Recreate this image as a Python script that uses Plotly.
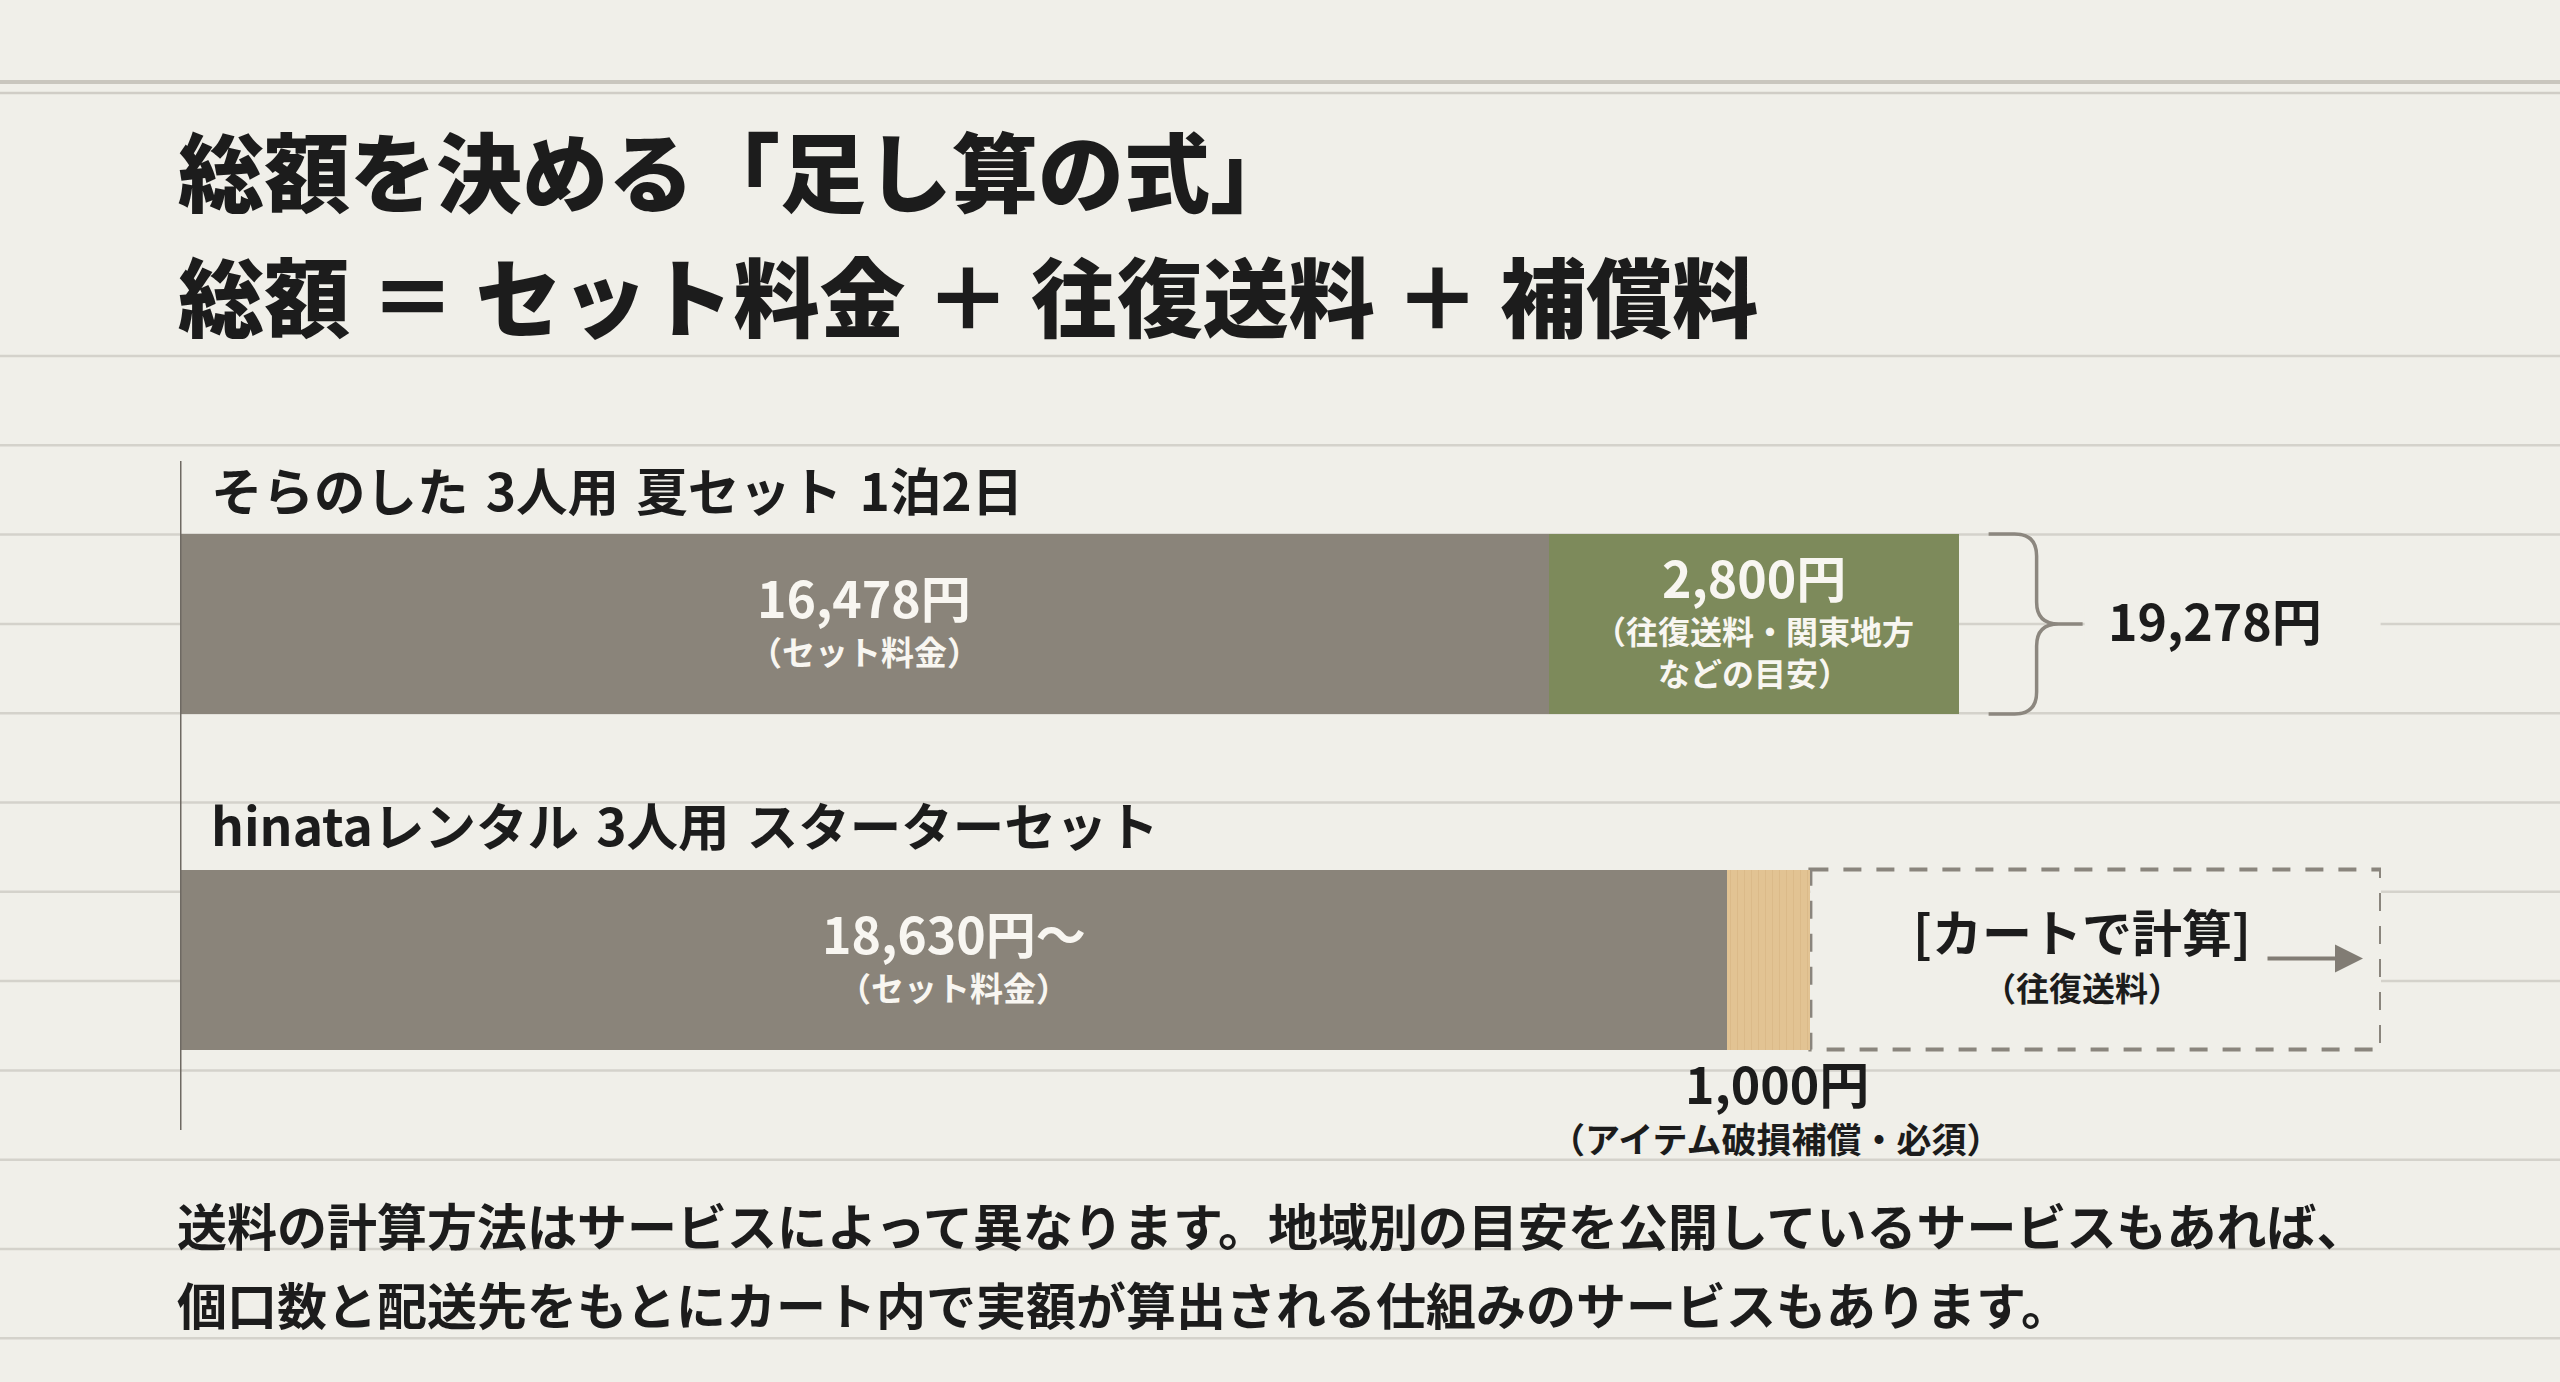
import plotly.graph_objects as go

# ---------------- data ----------------
rows = ["そらのした 3人用 夏セット 1泊2日", "hinataレンタル 3人用 スターターセット"]
set_fee = [16478, 18630]
shipping_fee = [2800, None]
insurance_fee = [None, 1000]
set_fee_suffix = ["", "〜"]
set_label = "セット料金"
shipping_note = ["（往復送料・関東地方", "などの目安）"]
insurance_note = "（アイテム破損補償・必須）"
cart_label = "[カートで計算]"
cart_note = "（往復送料）"
title_lines = ["総額を決める「足し算の式」", "総額 ＝ セット料金 ＋ 往復送料 ＋ 補償料"]
footnote_lines = [
    "送料の計算方法はサービスによって異なります。地域別の目安を公開しているサービスもあれば、",
    "個口数と配送先をもとにカート内で実額が算出される仕組みのサービスもあります。",
]

# ---------------- layout constants ----------------
W, H = 2560, 1382
BG = "#f0efe9"
GRAY = "#8a847a"
GREEN = "#7d8a5b"
TAN = "#e2c393"
LINE = "#d4d2cb"
INK = "#1c1c1c"
WHITE = "#f8f6f1"
FONT = "Noto Sans CJK JP"
WSPACE = "\u2004"  # slightly wider word gap, as in the reference typography

PLOT_X0_PX, PLOT_X1_PX = 180, 2381
AXIS_MAX = 26500
ROW_PX = [624, 959.5]
BAR_PX = 180
MIN_LABEL_SEG_PX = 410

px_per_unit = (PLOT_X1_PX - PLOT_X0_PX) / AXIS_MAX
row_gap = ROW_PX[1] - ROW_PX[0]
y_top = -ROW_PX[0] / row_gap
y_bot = 1 + (H - ROW_PX[1]) / row_gap
bar_w = BAR_PX / row_gap
min_units = MIN_LABEL_SEG_PX / px_per_unit

shipping_disp = [max(v, min_units) if v else None for v in shipping_fee]

fig = go.Figure()
fig.add_trace(go.Bar(y=rows, x=set_fee, orientation="h", width=bar_w,
                     marker=dict(color=GRAY, line=dict(width=0)), hoverinfo="skip"))
fig.add_trace(go.Bar(y=rows, x=shipping_disp, orientation="h", width=bar_w,
                     marker=dict(color=GREEN, line=dict(width=0)), hoverinfo="skip"))
fig.add_trace(go.Bar(y=rows, x=insurance_fee, orientation="h", width=bar_w,
                     marker=dict(color=TAN, line=dict(width=0),
                                 pattern=dict(shape="|", fillmode="replace", bgcolor=TAN,
                                              fgcolor="#c9a56f", fgopacity=0.3, size=7, solidity=0.15)),
                     hoverinfo="skip"))

shapes = []
def py(p):
    return 1 - p / H

# notebook ruled lines
for yy, w, c in [(82, 4, "#c9c6be"), (93, 2.5, "#d0cdc6")]:
    shapes.append(dict(type="line", xref="paper", yref="paper", x0=0, x1=1, y0=py(yy), y1=py(yy),
                       line=dict(color=c, width=w), layer="below"))
for k in range(12):
    yy = 356 + k * 89.3
    shapes.append(dict(type="line", xref="paper", yref="paper", x0=0, x1=1, y0=py(yy), y1=py(yy),
                       line=dict(color=LINE, width=2.5), layer="below"))

end1 = set_fee[0] + shipping_disp[0]
end2 = set_fee[1] + insurance_fee[1]
total1 = set_fee[0] + shipping_fee[0]

# cover behind total label
shapes.append(dict(type="rect", xref="x", yref="y", xsizemode="pixel", ysizemode="pixel",
                   xanchor=end1, yanchor=0, x0=126, x1=422, y0=-20, y1=20,
                   fillcolor=BG, line=dict(width=0), layer="below"))
# dashed box (shipping computed in cart)
shapes.append(dict(type="rect", xref="x", yref="y", x0=end2, x1=AXIS_MAX,
                   y0=1 - bar_w / 2, y1=1 + bar_w / 2, fillcolor=BG,
                   line=dict(color="#8a857d", width=4, dash="18px,15px"), layer="below"))
# brace
brace = ("M 30,90 L 56,90 Q 78,90 78,68 L 78,22 Q 78,0 100,0 L 124,0 "
         "M 100,0 Q 78,0 78,-22 L 78,-68 Q 78,-90 56,-90 L 30,-90")
shapes.append(dict(type="path", xref="x", yref="y", xsizemode="pixel", ysizemode="pixel",
                   xanchor=end1, yanchor=0, path=brace,
                   line=dict(color="#8c877f", width=3.5), layer="above"))
# left axis line
shapes.append(dict(type="line", xref="x", yref="paper", x0=0, x1=0, y0=py(1130), y1=py(461),
                   line=dict(color="#6e6962", width=3), layer="above"))

ann = []
def A(text, x, y, size, color=INK, weight=600, xref="x", yref="y", xanchor="center",
      yanchor="middle", xshift=0, yshift=0, **kw):
    ann.append(dict(text=text, x=x, y=y, xref=xref, yref=yref, xanchor=xanchor, yanchor=yanchor,
                    xshift=xshift, yshift=yshift, showarrow=False,
                    font=dict(family=FONT, size=size, color=color, weight=weight), **kw))

# titles
A(title_lines[0], 176 / W, py(169), 86, weight=900, xref="paper", yref="paper", xanchor="left")
A(title_lines[1], 176 / W, py(294), 86, weight=900, xref="paper", yref="paper", xanchor="left")

# row labels
for r in rows:
    A(r.replace(" ", WSPACE), 0, r, 51.5, xanchor="left", xshift=29, yshift=136)

# set fee labels
for i, r in enumerate(rows):
    cx = set_fee[i] / 2
    A(f"{set_fee[i]:,}円{set_fee_suffix[i]}", cx, r, 50, color=WHITE, yshift=28)
    A(f"（{set_label}）", cx, r, 33, color=WHITE, yshift=-27)

# shipping labels (row 1)
gx = set_fee[0] + shipping_disp[0] / 2
A(f"{shipping_fee[0]:,}円", gx, rows[0], 50, color=WHITE, yshift=48)
A("<br>".join(shipping_note), gx, rows[0], 32, color=WHITE, yshift=-27)

# total
A(f"{total1:,}円", end1, rows[0], 50, xanchor="left", xshift=147, yshift=5)

# insurance labels (row 2, below bar)
tx = set_fee[1] + insurance_fee[1] / 2
A(f"{insurance_fee[1]:,}円", tx, rows[1], 50, xshift=8, yshift=-122)
A(insurance_note, tx, rows[1], 35, xshift=7, yshift=-178)

# cart box
bx = (end2 + AXIS_MAX) / 2
A(cart_label, bx, rows[1], 50, xshift=-14, yshift=30)
A(cart_note, bx, rows[1], 33, xshift=-14, yshift=-27)
ann.append(dict(x=AXIS_MAX, y=rows[1], xref="x", yref="y", xshift=-18, yshift=1, text="",
                showarrow=True, ax=-97, ay=0, axref="pixel", ayref="pixel",
                arrowhead=2, arrowsize=1.4, arrowwidth=4, arrowcolor="#817c74"))

# footnote
A(footnote_lines[0], 175 / W, py(1224), 50, xref="paper", yref="paper", xanchor="left")
A(footnote_lines[1], 175 / W, py(1303), 50, xref="paper", yref="paper", xanchor="left")

fig.update_layout(
    width=W, height=H, margin=dict(l=0, r=0, t=0, b=0),
    paper_bgcolor=BG, plot_bgcolor=BG, barmode="stack", bargap=0, showlegend=False,
    xaxis=dict(range=[0, AXIS_MAX], domain=[PLOT_X0_PX / W, PLOT_X1_PX / W], visible=False,
               fixedrange=True),
    yaxis=dict(type="category", categoryarray=rows, range=[y_bot, y_top], domain=[0, 1],
               visible=False, fixedrange=True),
    shapes=shapes, annotations=ann,
    font=dict(family=FONT),
)

fig.write_html("out.html", config={"displayModeBar": False},
               post_script="document.body.style.margin='0';document.body.style.overflow='hidden';")
